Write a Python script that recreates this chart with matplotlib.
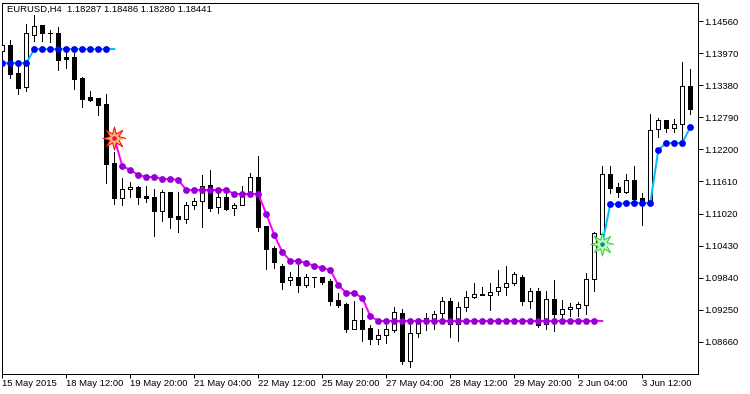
import matplotlib
matplotlib.use('Agg')
import matplotlib.pyplot as plt
import numpy as np

nan = float('nan')

opens = [1.14009, 1.14119, 1.13605, 1.13347, 1.14303, 1.14487, 1.14349, 1.14340, 1.13890, 1.13899,
         1.13513, 1.13163, 1.13145, 1.13034, 1.11949, 1.11306, 1.11471, 1.11508, 1.11343, 1.11324,
         1.11067, 1.11416, 1.10975, 1.10920, 1.11177, 1.11251, 1.11545, 1.11140, 1.11324, 1.11122,
         1.11177, 1.11398, 1.11692, 1.10791, 1.10386, 1.10055, 1.09798, 1.09853, 1.09706, 1.09848,
         1.09853, 1.09779, 1.09430, 1.09356, 1.08897, 1.09062, 1.08915, 1.08713, 1.08786, 1.08878,
         1.09191, 1.08308, 1.08823, 1.09099, 1.09081, 1.09191, 1.09412, 1.08989, 1.09301, 1.09485,
         1.09540, 1.09522, 1.09596, 1.09669, 1.09743, 1.09853, 1.09412, 1.09596, 1.08989, 1.09448,
         1.09173, 1.09264, 1.09283, 1.09338, 1.09816, 1.10644, 1.11747, 1.11508, 1.11416, 1.11637,
         1.11306, 1.11214, 1.12575, 1.12740, 1.12593, 1.12667, 1.13365]
highs = [1.14119, 1.14211, 1.13788, 1.14506, 1.14671, 1.14487, 1.14395, 1.14450, 1.14046, 1.13972,
         1.13531, 1.13274, 1.13145, 1.13218, 1.12152, 1.11674, 1.11600, 1.11526, 1.11526, 1.11471,
         1.11453, 1.11416, 1.11416, 1.11232, 1.11306, 1.11729, 1.11821, 1.11453, 1.11398, 1.11214,
         1.11526, 1.11766, 1.12078, 1.10791, 1.10423, 1.10092, 1.09945, 1.10074, 1.09908, 1.09853,
         1.09853, 1.09816, 1.09559, 1.09375, 1.09412, 1.09283, 1.08970, 1.08897, 1.08970, 1.09301,
         1.09264, 1.09025, 1.09099, 1.09191, 1.09228, 1.09485, 1.09467, 1.09393, 1.09596, 1.09743,
         1.09669, 1.09743, 1.09982, 1.10055, 1.09945, 1.09890, 1.09651, 1.09651, 1.09596, 1.09798,
         1.09430, 1.09375, 1.09393, 1.09927, 1.10681, 1.11894, 1.11894, 1.11582, 1.11747, 1.11894,
         1.11398, 1.12851, 1.12777, 1.12740, 1.12759, 1.13807, 1.13678]
lows = [1.14009, 1.13513, 1.13218, 1.13274, 1.14193, 1.14193, 1.14175, 1.13660, 1.13696, 1.13310,
        1.12979, 1.13090, 1.12832, 1.11582, 1.11195, 1.11177, 1.11324, 1.11195, 1.11232, 1.10607,
        1.10883, 1.10754, 1.10681, 1.10846, 1.11103, 1.10772, 1.11067, 1.11030, 1.11085, 1.10993,
        1.11177, 1.11361, 1.10699, 1.10000, 1.10018, 1.09632, 1.09706, 1.09577, 1.09669, 1.09669,
        1.09724, 1.09338, 1.09301, 1.08842, 1.08897, 1.08676, 1.08621, 1.08621, 1.08639, 1.08842,
        1.08253, 1.08198, 1.08750, 1.08878, 1.08897, 1.09081, 1.08750, 1.08676, 1.09228, 1.09467,
        1.09522, 1.09246, 1.09522, 1.09522, 1.09706, 1.09338, 1.09283, 1.08933, 1.08897, 1.08860,
        1.09117, 1.09136, 1.09136, 1.09173, 1.09596, 1.10478, 1.11398, 1.11324, 1.11398, 1.11232,
        1.10809, 1.11214, 1.12428, 1.12520, 1.12520, 1.12336, 1.12851]
closes = [1.14119, 1.13586, 1.13329, 1.14340, 1.14469, 1.14340, 1.14340, 1.13844, 1.13871, 1.13494,
          1.13126, 1.13108, 1.13016, 1.11931, 1.11306, 1.11471, 1.11508, 1.11324, 1.11306, 1.11067,
          1.11416, 1.10956, 1.10920, 1.11177, 1.11251, 1.11526, 1.11122, 1.11324, 1.11103, 1.11177,
          1.11398, 1.11692, 1.10772, 1.10368, 1.10129, 1.09761, 1.09853, 1.09706, 1.09853, 1.09853,
          1.09761, 1.09412, 1.09338, 1.08897, 1.09062, 1.08897, 1.08713, 1.08786, 1.08897, 1.09209,
          1.08308, 1.08823, 1.09062, 1.09025, 1.09173, 1.09412, 1.08989, 1.09301, 1.09485, 1.09540,
          1.09522, 1.09577, 1.09669, 1.09743, 1.09908, 1.09412, 1.09596, 1.08970, 1.09448, 1.09173,
          1.09264, 1.09301, 1.09356, 1.09816, 1.10662, 1.11747, 1.11490, 1.11416, 1.11637, 1.11287,
          1.11214, 1.12556, 1.12740, 1.12593, 1.12667, 1.13365, 1.12942]

# trend lines, the first and last point of each stretch have no dot
up_line = [1.13788] * 4 + [1.14046] * 11 + [nan] * 60 + [1.10460, 1.11195, 1.11195, 1.11214, 1.11214,
           1.11214, 1.11214, 1.12188, 1.12317, 1.12317, 1.12317, 1.12611]
down_line = [nan] * 14 + [1.12409, 1.11894, 1.11821, 1.11729, 1.11692, 1.11692, 1.11655, 1.11655, 1.11637,
             1.11453, 1.11453, 1.11453, 1.11453, 1.11453, 1.11453, 1.11379, 1.11379, 1.11379, 1.11379,
             1.11012, 1.10625, 1.10313, 1.10147, 1.10147, 1.10110, 1.10055, 1.10018, 1.09982, 1.09706,
             1.09559, 1.09559, 1.09467, 1.09136] + [1.09044] * 29 + [nan] * 11
sell_star = (14, 1.12409)
buy_star = (75, 1.10460)

price_ticks = [1.14560, 1.13970, 1.13380, 1.12790, 1.12200, 1.11610, 1.11020, 1.10430, 1.09840, 1.09250, 1.08660]
time_ticks = [0, 8, 16, 24, 32, 40, 48, 56, 64, 72, 80]
time_labels = ['15 May 2015', '18 May 12:00', '19 May 20:00', '21 May 04:00', '22 May 12:00', '25 May 20:00',
               '27 May 04:00', '28 May 12:00', '29 May 20:00', '2 Jun 04:00', '3 Jun 12:00']
title = 'EURUSD,H4  1.18287 1.18486 1.18280 1.18441'

plt.rcParams['font.family'] = ['Liberation Sans', 'DejaVu Sans']
px = 0.72  # one pixel in points at dpi 100
font_size = 6.8


def star_marker(inner):
    # 8 thin points, returned as polygon vertices for the marker
    a = np.arange(16) * np.pi / 8
    r = np.where(np.arange(16) % 2 == 0, 1.0, inner)
    return list(zip(r * np.cos(a), r * np.sin(a)))


fig = plt.figure(figsize=(7.5, 3.94), dpi=100)
ax = fig.add_axes([2.3 / 750, 20.5 / 394, 695.2 / 750, 371 / 394])
ax.set_xlim(0, 86.9)
ax.set_ylim(1.08078, 1.14901)

x = np.arange(len(opens))
o = np.array(opens)
c = np.array(closes)
up = c >= o
body_low = np.minimum(o, c)
body_h = np.abs(c - o)

ax.vlines(x, lows, highs, color='black', lw=px, zorder=2, antialiased=False)
ax.bar(x[up], body_h[up], 0.5, body_low[up], facecolor='white', edgecolor='black', lw=px, zorder=3, antialiased=False)
ax.bar(x[~up], body_h[~up], 0.5, body_low[~up], facecolor='black', edgecolor='black', lw=px, zorder=3, antialiased=False)

up_dots = [i for i in range(len(up_line)) if i != 14 and i != 75 and up_line[i] == up_line[i]]
down_dots = [i for i in range(len(down_line)) if i != 14 and i != 75 and down_line[i] == down_line[i]]
ax.plot(x, up_line, color='#00BFFF', lw=2 * px, zorder=4)
ax.plot(x, down_line, color='#FF00FF', lw=2 * px, zorder=4)
ax.plot(x, up_line, ls='none', marker='o', ms=6.8 * px, mfc='#0000FF', mec='none', markevery=up_dots, zorder=5)
ax.plot(x, down_line, ls='none', marker='o', ms=6.8 * px, mfc='#9400D3', mec='none', markevery=down_dots, zorder=5)

for star, edge, fill, mid in [(sell_star, '#FF0000', '#FFB070', '#E0104C'), (buy_star, '#32CD32', '#B8FFB8', '#1E78B4')]:
    ax.plot(*star, marker=star_marker(0.42), ms=23 * px, mfc=fill, mec=edge, mew=px, zorder=6)
    ax.plot(*star, marker='o', ms=4.5 * px, mfc=mid, mec='none', zorder=7)

for s in ax.spines.values():
    s.set_linewidth(px)
ax.yaxis.tick_right()
ax.set_yticks(price_ticks)
ax.set_yticklabels(['%.5f' % p for p in price_ticks])
ax.set_xticks(time_ticks)
ax.set_xticklabels(time_labels, ha='left')
ax.tick_params(axis='y', length=5 * px, width=px, pad=1, labelsize=font_size)
ax.tick_params(axis='x', length=4 * px, width=px, pad=1, labelsize=font_size)

fig.text(7 / 750, 1 - 9 / 394, title, fontsize=font_size, va='center', ha='left')

fig.savefig('out.png', dpi=100)
